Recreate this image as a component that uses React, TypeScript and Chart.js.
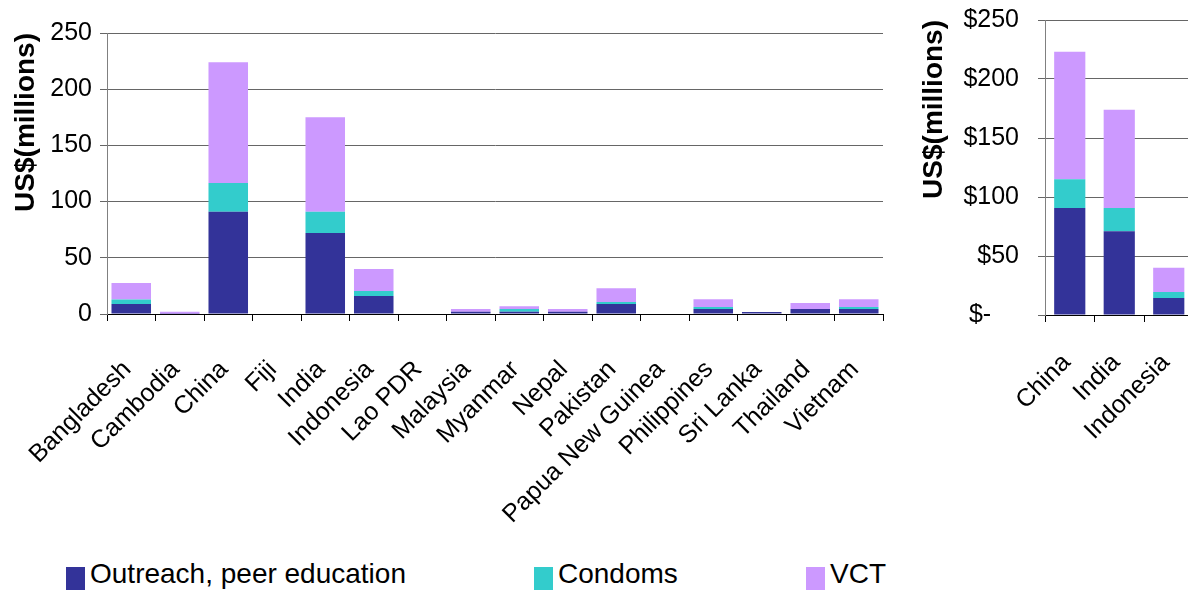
import React, { useEffect, useRef } from "react";
import { Chart, registerables } from "chart.js";

Chart.register(...registerables);

// ---- Data (US$ millions) ----
const countries = [
  "Bangladesh", "Cambodia", "China", "Fiji", "India", "Indonesia", "Lao PDR",
  "Malaysia", "Myanmar", "Nepal", "Pakistan", "Papua New Guinea",
  "Philippines", "Sri Lanka", "Thailand", "Vietnam",
];
const outreach = [9, 0.3, 91, 0, 72, 16, 0, 2, 2, 2, 9, 0, 4.5, 1.8, 4.5, 4.5];
const condoms = [4, 0, 25.5, 0, 19, 4.5, 0, 0, 2.5, 0, 1.7, 0, 1.7, 0, 0, 1.7];
const vct = [14.5, 1.7, 107.5, 0, 84, 19.5, 0, 2.5, 2.5, 2.5, 12.3, 0, 7, 0, 5.3, 7];

const focusCountries = ["China", "India", "Indonesia"];
const focusOutreach = [90.7, 71, 14.4];
const focusCondoms = [24.3, 19.7, 5.1];
const focusVct = [108, 83.3, 20.5];

const yTicksLeft = [0, 50, 100, 150, 200, 250];

const seriesNames = ["Outreach, peer education", "Condoms", "VCT"];
const seriesColors = ["#333399", "#33CCCC", "#CC99FF"];

const FONT = "'Liberation Sans', Arial, Helvetica, sans-serif";
Chart.defaults.font.family = FONT;
Chart.defaults.color = "#000";

function datasets(values: number[][], barPercentage: number) {
  return values.map((v, i) => ({
    label: seriesNames[i],
    data: v,
    backgroundColor: seriesColors[i],
    borderWidth: 0,
    barPercentage,
    categoryPercentage: 1,
    stack: "s",
  }));
}

function xAxis(height: number, padding: number, labelOffset: number) {
  return {
    stacked: true,
    grid: {
      display: true,
      drawOnChartArea: false,
      drawTicks: true,
      tickLength: 7,
      color: "#000",
      offset: true,
    },
    border: { display: true, color: "#000", width: 1 },
    ticks: {
      autoSkip: false,
      maxRotation: 45,
      minRotation: 45,
      padding,
      labelOffset,
      color: "#000",
      font: { size: 25 },
    },
    afterFit: (s: any) => {
      s.height = height;
      s.paddingRight = 0;
      s.paddingLeft = 0;
    },
  };
}

function yAxis(width: number, padding: number, titlePad: number, callback?: (v: any) => string) {
  return {
    stacked: true,
    min: 0,
    max: 250,
    afterBuildTicks: (s: any) => {
      s.ticks = yTicksLeft.map((v) => ({ value: v }));
    },
    ticks: {
      padding,
      color: "#000",
      font: { size: 25 },
      ...(callback ? { callback } : {}),
    },
    grid: { color: "#666", tickLength: 7, drawTicks: true },
    border: { color: "#808080" },
    title: {
      display: true,
      text: "US$(millions)",
      align: "end",
      color: "#000",
      font: { size: 28, weight: "bold" },
      padding: { top: titlePad, bottom: 0 },
    },
    afterFit: (s: any) => {
      s.width = width;
      s.paddingTop = 0;
      s.paddingBottom = 0;
    },
  };
}

export default function App() {
  const leftRef = useRef<HTMLCanvasElement>(null);
  const rightRef = useRef<HTMLCanvasElement>(null);

  useEffect(() => {
    const left = new Chart(leftRef.current!, {
      type: "bar",
      data: {
        labels: countries,
        datasets: datasets([outreach, condoms, vct], 0.815) as any,
      },
      options: {
        animation: false,
        responsive: false,
        devicePixelRatio: 1,
        layout: { padding: { top: 33, right: 7, left: 0, bottom: 0 } },
        plugins: { legend: { display: false }, tooltip: { enabled: false } },
        scales: {
          x: xAxis(545 - 314, 34, -4),
          y: yAxis(107, 8, 9),
        },
      } as any,
    });

    const right = new Chart(rightRef.current!, {
      type: "bar",
      data: {
        labels: focusCountries,
        datasets: datasets([focusOutreach, focusCondoms, focusVct], 0.63) as any,
      },
      options: {
        animation: false,
        responsive: false,
        devicePixelRatio: 1,
        layout: { padding: { top: 20, right: 6.5, left: 0, bottom: 0 } },
        plugins: { legend: { display: false }, tooltip: { enabled: false } },
        scales: {
          x: xAxis(460 - 315, 26, -3),
          y: yAxis(145, 19, 17, (v: any) =>
            Number(v) === 0 ? "$-\u2007\u2007" : "$" + v
          ),
        },
      } as any,
    });

    return () => {
      left.destroy();
      right.destroy();
    };
  }, []);

  const legendItems = [
    { box: 66, text: 90 },
    { box: 534, text: 558 },
    { box: 806, text: 830 },
  ];

  return (
    <div
      style={{
        position: "absolute",
        left: 0,
        top: 0,
        width: 1188,
        height: 595,
        overflow: "hidden",
        background: "#fff",
      }}
    >
      <canvas
        ref={leftRef}
        width={890}
        height={545}
        style={{ position: "absolute", left: 0, top: 0, width: 890, height: 545 }}
      />
      <canvas
        ref={rightRef}
        width={300}
        height={460}
        style={{ position: "absolute", left: 900, top: 0, width: 300, height: 460 }}
      />
      {legendItems.map((it, i) => (
        <React.Fragment key={i}>
          <div
            style={{
              position: "absolute",
              left: it.box,
              top: 567,
              width: 19,
              height: 23,
              background: seriesColors[i],
            }}
          />
          <div
            style={{
              position: "absolute",
              left: it.text,
              top: 558,
              height: 32,
              lineHeight: "32px",
              fontFamily: FONT,
              fontSize: 28,
              color: "#000",
              whiteSpace: "nowrap",
            }}
          >
            {seriesNames[i]}
          </div>
        </React.Fragment>
      ))}
    </div>
  );
}
